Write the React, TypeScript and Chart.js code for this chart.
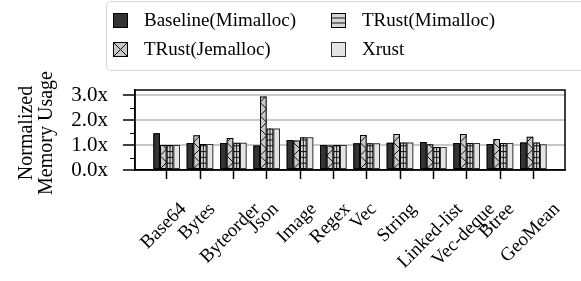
import React, { useEffect, useRef } from "react";
import { Chart, registerables } from "chart.js";

Chart.register(...registerables);

const categories = [
  "Base64", "Bytes", "Byteorder", "Json", "Image", "Regex",
  "Vec", "String", "Linked-list", "Vec-deque", "Btree", "GeoMean",
];
const seriesNames = ["Baseline(Mimalloc)", "TRust(Jemalloc)", "TRust(Mimalloc)", "Xrust"];
const baseline = [1.47, 1.08, 1.08, 0.98, 1.2, 1.0, 1.07, 1.09, 1.12, 1.08, 1.04, 1.1];
const trustJemalloc = [1.0, 1.39, 1.28, 2.94, 1.18, 0.98, 1.4, 1.44, 1.03, 1.44, 1.24, 1.33];
const trustMimalloc = [1.0, 1.04, 1.09, 1.66, 1.31, 1.0, 1.07, 1.1, 0.92, 1.08, 1.08, 1.1];
const xrust = [1.0, 1.04, 1.09, 1.66, 1.31, 1.0, 1.07, 1.1, 0.92, 1.08, 1.08, 1.03];
const yTickValues = [0, 1, 2, 3];
const yAllTicks = [0, 0.5, 1, 1.5, 2, 2.5, 3];
const yTitle = ["Normalized", "Memory Usage"];

const FONT = '"Liberation Serif", "Times New Roman", serif';
const FS_LEGEND = 19;
const FS_XTICK = 19;
const FS_YTICK = 21;
const FS_TITLE = 20;
const X_MARGIN = 0.45; // extra category units on each side of the x axis
const fills = ["#333333", "#c9c9c9", "#d6d6d6", "#e4e4e4"];
const hatches = ["none", "x", "plus", "none"];

function drawHatch(ctx: CanvasRenderingContext2D, kind: string, l: number, t: number, r: number, b: number, legend = false) {
  if (kind === "none") return;
  ctx.save();
  ctx.beginPath();
  ctx.rect(l, t, r - l, b - t);
  ctx.clip();
  ctx.strokeStyle = "#111";
  ctx.lineWidth = 1;
  ctx.beginPath();
  const w = r - l;
  if (kind === "x") {
    if (legend) {
      ctx.moveTo(l, t); ctx.lineTo(r, b);
      ctx.moveTo(l, b); ctx.lineTo(r, t);
    } else {
      const P = 2 * w;
      for (let y0 = b + P; y0 > t - P; y0 -= P) {
        ctx.moveTo(l, y0); ctx.lineTo(r, y0 - w);
        ctx.moveTo(l, y0 - P); ctx.lineTo(r, y0 - w);
      }
    }
  } else if (kind === "plus") {
    const step = legend ? (b - t) / 3 : 5.8;
    for (let y = b - step; y > t; y -= step) {
      ctx.moveTo(l, y); ctx.lineTo(r, y);
    }
    if (!legend) {
      const cx = (l + r) / 2;
      ctx.moveTo(cx, t); ctx.lineTo(cx, b);
    }
  }
  ctx.stroke();
  ctx.restore();
}

const customPlugin = {
  id: "custom",
  afterDatasetsDraw(chart: any) {
    const ctx = chart.ctx as CanvasRenderingContext2D;
    chart.data.datasets.forEach((ds: any, di: number) => {
      const meta = chart.getDatasetMeta(di);
      meta.data.forEach((el: any) => {
        const p = el.getProps(["x", "y", "base", "width"], true);
        const l = p.x - p.width / 2, r = p.x + p.width / 2;
        const t = Math.min(p.y, p.base), b = Math.max(p.y, p.base);
        drawHatch(ctx, hatches[di], l, t, r, b);
        ctx.save();
        ctx.strokeStyle = ds.borderColor;
        ctx.lineWidth = 1;
        ctx.strokeRect(l + 0.5, t + 0.5, r - l - 1, b - t - 1);
        ctx.restore();
      });
    });
  },
  afterDraw(chart: any) {
    const ctx = chart.ctx as CanvasRenderingContext2D;
    const area = chart.chartArea;
    const xs = chart.scales.x;
    const ys = chart.scales.y;
    ctx.save();
    // frame
    ctx.strokeStyle = "#000";
    ctx.lineWidth = 1.5;
    ctx.strokeRect(area.left, area.top, area.right - area.left, area.bottom - area.top);
    // minor y ticks
    ctx.lineWidth = 1.2;
    ctx.beginPath();
    yAllTicks.filter((v) => !yTickValues.includes(v)).forEach((v) => {
      const y = Math.round(ys.getPixelForValue(v)) + 0.5;
      ctx.moveTo(area.left - 5, y);
      ctx.lineTo(area.left, y);
    });
    ctx.stroke();
    // x labels rotated 45, centered
    ctx.font = `${FS_XTICK}px ${FONT}`;
    ctx.fillStyle = "#000";
    ctx.textAlign = "center";
    ctx.textBaseline = "middle";
    categories.forEach((lab, i) => {
      const tx = xs.getPixelForTick(i);
      const w = ctx.measureText(lab).width;
      const H = (w + FS_XTICK * 0.95) * Math.SQRT1_2;
      const top = area.bottom + 30;
      ctx.save();
      ctx.translate(tx - 3, top + H / 2);
      ctx.rotate(-Math.PI / 4);
      ctx.fillText(lab, 0, 0);
      ctx.restore();
    });
    // y title (centered lines)
    ctx.font = `${FS_TITLE}px ${FONT}`;
    ctx.textAlign = "center";
    ctx.textBaseline = "alphabetic";
    const cy = (area.top + area.bottom) / 2 + 3;
    yTitle.forEach((line, i) => {
      ctx.save();
      ctx.translate(32 + i * 19.5, cy);
      ctx.rotate(-Math.PI / 2);
      ctx.fillText(line, 0, 0);
      ctx.restore();
    });
    // legend
    ctx.font = `${FS_LEGEND}px ${FONT}`;
    const lx = 106, ly = 1, lw = 500, lh = 69;
    ctx.beginPath();
    ctx.roundRect(lx + 0.5, ly + 0.5, lw, lh, 4);
    ctx.fillStyle = "rgba(255,255,255,0.85)";
    ctx.fill();
    ctx.strokeStyle = "#d8d8d8";
    ctx.lineWidth = 1;
    ctx.stroke();
    const order = [0, 2, 1, 3];
    const colX = [113, 331];
    const rowY = [13, 42];
    order.forEach((di, k) => {
      const col = k % 2, row = Math.floor(k / 2);
      const ds = chart.data.datasets[di];
      const x0 = colX[col], y0 = rowY[row], s = 15;
      ctx.fillStyle = ds.backgroundColor;
      ctx.fillRect(x0, y0, s, s);
      drawHatch(ctx, hatches[di], x0, y0, x0 + s, y0 + s, true);
      ctx.strokeStyle = ds.borderColor;
      ctx.lineWidth = 1;
      ctx.strokeRect(x0 + 0.5, y0 + 0.5, s - 1, s - 1);
      ctx.fillStyle = "#000";
      ctx.textAlign = "left";
      ctx.textBaseline = "middle";
      ctx.fillText(ds.label, x0 + 31, y0 + s / 2 + 1);
    });
    ctx.restore();
  },
};

export default function App() {
  const ref = useRef<HTMLCanvasElement | null>(null);
  useEffect(() => {
    document.body.style.margin = "0";
    if (!ref.current) return;
    Chart.defaults.font.family = FONT;
    const seriesData = [baseline, trustJemalloc, trustMimalloc, xrust];
    const chart = new Chart(ref.current, {
      type: "bar",
      data: {
        labels: categories,
        datasets: seriesNames.map((name, i) => ({
          label: name,
          data: seriesData[i],
          backgroundColor: fills[i],
          borderColor: i === 3 ? "#333" : "#000",
          borderWidth: 0,
          categoryPercentage: 0.8,
          barPercentage: 1.0,
        })),
      },
      options: {
        animation: false,
        responsive: false,
        layout: { padding: { top: 90, right: 16, bottom: 0, left: 0 } },
        plugins: { legend: { display: false }, tooltip: { enabled: false } },
        scales: {
          x: {
            type: "category",
            offset: true,
            grid: {
              offset: false,
              drawOnChartArea: false,
              tickLength: 9,
              tickColor: "#000",
              tickWidth: 1.5,
            },
            border: { display: true, color: "#000", width: 1.5 },
            ticks: { display: false, autoSkip: false },
            afterBuildTicks: (s: any) => {
              const n = categories.length;
              s._startValue = -0.5 - X_MARGIN;
              s._valueRange = n + 2 * X_MARGIN;
            },
            afterFit: (s: any) => { s.height = 111; },
          },
          y: {
            min: 0,
            max: 3.2,
            afterBuildTicks: (s: any) => { s.ticks = yAllTicks.map((v) => ({ value: v })); },
            ticks: {
              autoSkip: false,
              color: "#000",
              padding: 15,
              font: { size: FS_YTICK, family: FONT },
              callback: (v: any) => (yTickValues.includes(Number(v)) ? Number(v).toFixed(1) + "x" : ""),
            },
            grid: {
              color: (c: any) => (c.tick && yTickValues.includes(c.tick.value) && c.tick.value > 0 ? "#c8c8c8" : "rgba(0,0,0,0)"),
              lineWidth: 2,
              tickLength: 12,
              tickWidth: 1.5,
              tickColor: (c: any) => (c.tick && yTickValues.includes(c.tick.value) ? "#000" : "rgba(0,0,0,0)"),
            },
            border: { display: true, color: "#000", width: 1.5 },
            afterFit: (s: any) => { s.width = 135; },
          },
        },
      },
      plugins: [customPlugin],
    });
    return () => chart.destroy();
  }, []);
  return (
    <div style={{ width: 581, height: 281, background: "#fff" }}>
      <canvas ref={ref} width={581} height={281} />
    </div>
  );
}
